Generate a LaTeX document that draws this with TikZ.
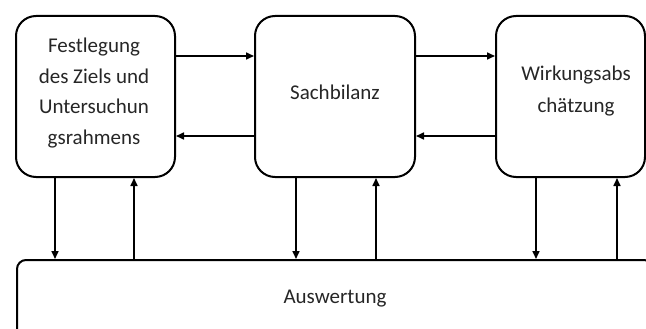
\documentclass[tikz,border=0pt]{standalone}
\usepackage{fontspec}
\setmainfont{Carlito}
\usetikzlibrary{arrows.meta}
\begin{document}
\begin{tikzpicture}[x=1pt,y=-1pt,
  box/.style={draw, line width=2pt, rounded corners=20pt, inner sep=0pt},
  lbl/.style={text=black!85, align=center, font=\fontsize{21}{30.5}\selectfont},
  bbox/.style={draw, line width=2pt, rounded corners=9pt, inner sep=0pt,
    text=black!85, font=\fontsize{21}{30}\selectfont},
  arr/.style={line width=1.6pt, -{Triangle[length=8pt,width=7pt]}}]
\clip (0,0) rectangle (646,329);
\fill[white] (0,0) rectangle (646,329);
\node[box, minimum width=159pt, minimum height=161pt] (b1) at (95.5,96.5) {};
\node[lbl] (t1) at (94,93) {Festlegung\\des Ziels und\\Untersuchun\\gsrahmens};
\node[box, minimum width=160pt, minimum height=161pt] (b2) at (335,96.5) {};
\node[lbl] (t2) at (335,92) {Sachbilanz};
\node[box, minimum width=149pt, minimum height=161pt] (b3) at (570.5,96.5) {};
\node[lbl, font=\fontsize{21}{32}\selectfont] (t3) at (576,91) {Wirkungsabs\\chätzung};
\node[bbox, minimum width=636pt, minimum height=78pt, anchor=north west] (aw) at (16,259) {Auswertung};
% horizontal arrows
\draw[arr] (b1.east |- 0,56) -- (b2.west |- 0,56);
\draw[arr] (b2.west |- 0,136) -- (b1.east |- 0,136);
\draw[arr] (b2.east |- 0,56) -- (b3.west |- 0,56);
\draw[arr] (b3.west |- 0,136) -- (b2.east |- 0,136);
% vertical arrows
\draw[arr] (b1.south -| 55,0) -- (aw.north -| 55,0);
\draw[arr] (aw.north -| 134,0) -- (b1.south -| 134,0);
\draw[arr] (b2.south -| 296,0) -- (aw.north -| 296,0);
\draw[arr] (aw.north -| 376,0) -- (b2.south -| 376,0);
\draw[arr] (b3.south -| 536,0) -- (aw.north -| 536,0);
\draw[arr] (aw.north -| 617,0) -- (b3.south -| 617,0);
\end{tikzpicture}
\end{document}
